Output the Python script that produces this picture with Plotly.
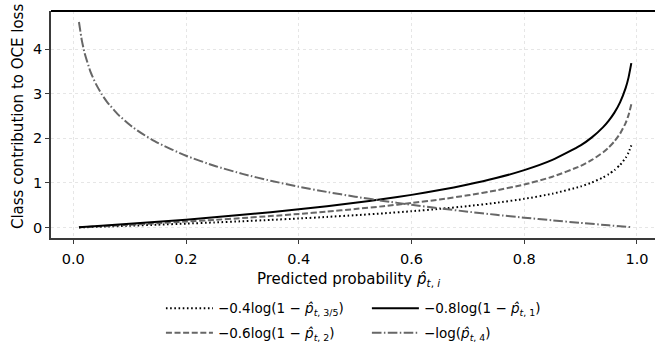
import plotly.graph_objects as go

# Sample points (curves of -w*log(1-p) and -log(p))
p_grid = [0.01, 0.05, 0.1, 0.15, 0.2, 0.25, 0.3, 0.35, 0.4, 0.45, 0.5, 0.55, 0.6, 0.65,
          0.7, 0.75, 0.8, 0.85, 0.9, 0.92, 0.94, 0.95, 0.96, 0.97, 0.98, 0.985, 0.99]
loss_04 = [0.0040, 0.0205, 0.0421, 0.0650, 0.0893, 0.1151, 0.1427, 0.1723, 0.2043, 0.2391,
           0.2773, 0.3194, 0.3665, 0.4199, 0.4816, 0.5545, 0.6438, 0.7588, 0.9210, 1.0103,
           1.1254, 1.1983, 1.2876, 1.4026, 1.5648, 1.6799, 1.8421]
loss_06 = [0.0060, 0.0308, 0.0632, 0.0975, 0.1339, 0.1726, 0.2140, 0.2585, 0.3065, 0.3587,
           0.4159, 0.4791, 0.5498, 0.6299, 0.7224, 0.8318, 0.9657, 1.1383, 1.3816, 1.5154,
           1.6881, 1.7974, 1.9313, 2.1039, 2.3472, 2.5198, 2.7631]
loss_08 = [0.0080, 0.0410, 0.0843, 0.1300, 0.1785, 0.2301, 0.2853, 0.3446, 0.4087, 0.4783,
           0.5545, 0.6388, 0.7330, 0.8399, 0.9632, 1.1090, 1.2876, 1.5177, 1.8421, 2.0206,
           2.2507, 2.3966, 2.5751, 2.8053, 3.1296, 3.3598, 3.6841]
p_grid_pos = [0.01, 0.015, 0.02, 0.03, 0.04, 0.05, 0.06, 0.08, 0.1, 0.12, 0.15, 0.2, 0.25,
              0.3, 0.35, 0.4, 0.45, 0.5, 0.55, 0.6, 0.65, 0.7, 0.75, 0.8, 0.85, 0.9, 0.95, 0.99]
loss_pos = [4.6052, 4.1997, 3.9120, 3.5066, 3.2189, 2.9957, 2.8134, 2.5257, 2.3026, 2.1203,
            1.8971, 1.6094, 1.3863, 1.2040, 1.0498, 0.9163, 0.7985, 0.6931, 0.5978, 0.5108,
            0.4308, 0.3567, 0.2877, 0.2231, 0.1625, 0.1054, 0.0513, 0.0100]

x_ticks = [0.0, 0.2, 0.4, 0.6, 0.8, 1.0]
y_ticks = [0, 1, 2, 3, 4]

names = {
    "a": "−0.4log(1 − <i>p̂</i><sub><i>t</i>, 3/5</sub>)",
    "b": "−0.6log(1 − <i>p̂</i><sub><i>t</i>, 2</sub>)",
    "c": "−0.8log(1 − <i>p̂</i><sub><i>t</i>, 1</sub>)",
    "d": "−log(<i>p̂</i><sub><i>t</i>, 4</sub>)",
}
x_title = "Predicted probability <i>p̂</i><sub><i>t</i>, <i>i</i></sub>"
y_title = "Class contribution to OCE loss"

GRAY = "#676767"
fig = go.Figure()
fig.add_trace(go.Scatter(x=p_grid, y=loss_04, mode="lines", name=names["a"],
                         line=dict(color="black", width=2, dash="1.6px,2.6px", shape="spline", smoothing=0.5),
                         legend="legend", legendgroup="a"))
fig.add_trace(go.Scatter(x=p_grid, y=loss_06, mode="lines", name=names["b"],
                         line=dict(color=GRAY, width=2, dash="6px,2.6px", shape="spline", smoothing=0.5),
                         legend="legend", legendgroup="b"))
fig.add_trace(go.Scatter(x=p_grid, y=loss_08, mode="lines", name=names["c"],
                         line=dict(color="black", width=2, shape="spline", smoothing=0.5),
                         legend="legend2", legendgroup="c"))
fig.add_trace(go.Scatter(x=p_grid_pos, y=loss_pos, mode="lines", name=names["d"],
                         line=dict(color=GRAY, width=2, dash="9.6px,2.4px,1.5px,2.4px", shape="spline", smoothing=0.5),
                         legend="legend2", legendgroup="d"))

font = dict(family="DejaVu Sans", size=15, color="black")
tickfont = dict(family="DejaVu Sans", size=14.5, color="black")
legfont = dict(family="DejaVu Sans", size=13.5, color="black")
fig.update_layout(
    width=655, height=345,
    margin=dict(l=51, r=0, t=11, b=107, autoexpand=False),
    plot_bgcolor="white", paper_bgcolor="white",
    font=font,
    showlegend=True,
    legend=dict(x=0.182, y=-0.242, xanchor="left", yanchor="top", orientation="v",
                font=legfont, tracegroupgap=4, bgcolor="rgba(0,0,0,0)", itemwidth=47),
    legend2=dict(x=0.523, y=-0.242, xanchor="left", yanchor="top", orientation="v",
                 font=legfont, tracegroupgap=4, bgcolor="rgba(0,0,0,0)", itemwidth=47),
    xaxis=dict(range=[-0.0396, 1.032], tickvals=x_ticks, ticktext=[f"{v:.1f}" for v in x_ticks],
               showline=True, linecolor="#3a3a3a", linewidth=1.5, ticks="outside", ticklen=4,
               tickcolor="#3a3a3a", showgrid=True, gridcolor="#e6e6e6", griddash="dot", gridwidth=0.8,
               zeroline=False, automargin=False, tickfont=tickfont, ticklabelstandoff=3),
    yaxis=dict(range=[-0.233, 4.852], tickvals=y_ticks, ticktext=[str(v) for v in y_ticks],
               showline=True, linecolor="#3a3a3a", linewidth=1.5, ticks="outside", ticklen=4,
               tickcolor="#3a3a3a", showgrid=True, gridcolor="#e6e6e6", griddash="dot", gridwidth=0.8,
               zeroline=False, automargin=False, tickfont=tickfont),
    shapes=[dict(type="line", xref="paper", yref="paper", x0=0, x1=1, y0=1, y1=1,
                 line=dict(color="black", width=1.8))],
    annotations=[
        dict(text=x_title, xref="paper", yref="paper", x=0.492, y=-0.182,
             xanchor="center", yanchor="middle", showarrow=False, font=font),
        dict(text=y_title, xref="paper", yref="paper", x=-0.0546, y=0.533,
             xanchor="center", yanchor="middle", textangle=-90, showarrow=False, font=font),
    ],
)

fig.write_html("out.html", config={"displayModeBar": False},
               post_script="document.body.style.margin='0';document.body.style.overflow='hidden';")
